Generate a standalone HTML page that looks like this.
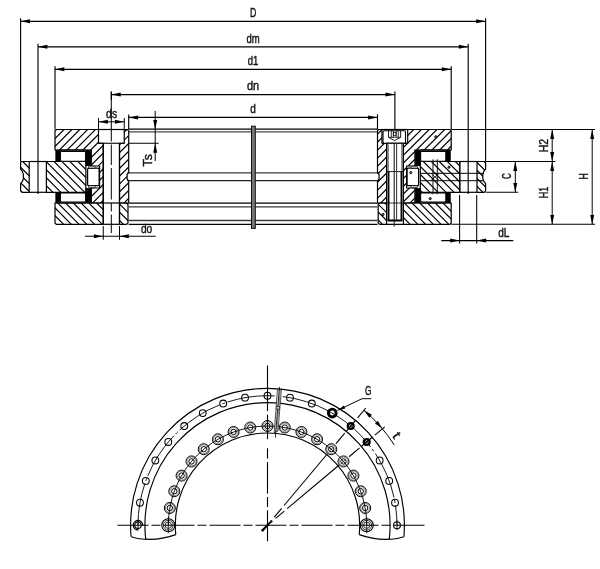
<!DOCTYPE html>
<html><head><meta charset="utf-8"><title>Bearing drawing</title>
<style>html,body{margin:0;padding:0;background:#fff;}body{width:600px;height:569px;overflow:hidden;font-family:"Liberation Sans",sans-serif;}svg{display:block;will-change:transform;}</style>
</head><body>
<svg width="600" height="569" viewBox="0 0 600 569" font-family="'Liberation Sans', sans-serif" fill="#111">
<rect width="600" height="569" fill="#fff"/>
<line x1="128.70" y1="129.20" x2="377.50" y2="129.20" stroke="#000" stroke-width="1.3" />
<line x1="128.70" y1="131.80" x2="377.50" y2="131.80" stroke="#4a4a4a" stroke-width="1.3" />
<line x1="127.20" y1="172.90" x2="379.00" y2="172.90" stroke="#3a3a3a" stroke-width="1.25" />
<line x1="127.20" y1="180.60" x2="379.00" y2="180.60" stroke="#222" stroke-width="1.25" />
<line x1="128.70" y1="203.10" x2="377.50" y2="203.10" stroke="#000" stroke-width="1.3" />
<line x1="128.70" y1="206.90" x2="377.50" y2="206.90" stroke="#3a3a3a" stroke-width="1.3" />
<line x1="128.70" y1="220.50" x2="377.50" y2="220.50" stroke="#3a3a3a" stroke-width="1.3" />
<line x1="128.70" y1="224.30" x2="377.50" y2="224.30" stroke="#000" stroke-width="1.3" />
<rect x="251.50" y="126.20" width="3.80" height="102.20" rx="0" fill="#777" stroke="#111" stroke-width="1.0"/>
<clipPath id="c1"><polygon points="56.30,129.50 98.50,129.50 98.50,143.25 103.25,143.25 103.25,203.00 91.30,203.00 91.30,188.00 99.60,188.00 99.60,166.00 91.30,166.00 91.30,150.00 55.00,150.00 55.00,130.80"/></clipPath>
<path clip-path="url(#c1)" d="M-18.25,204.00 L57.25,128.50 M-10.40,204.00 L65.10,128.50 M-2.55,204.00 L72.95,128.50 M5.30,204.00 L80.80,128.50 M13.15,204.00 L88.65,128.50 M21.00,204.00 L96.50,128.50 M28.85,204.00 L104.35,128.50 M36.70,204.00 L112.20,128.50 M44.55,204.00 L120.05,128.50 M52.40,204.00 L127.90,128.50 M60.25,204.00 L135.75,128.50 M68.10,204.00 L143.60,128.50 M75.95,204.00 L151.45,128.50 M83.80,204.00 L159.30,128.50 M91.65,204.00 L167.15,128.50 M99.50,204.00 L175.00,128.50" fill="none" stroke="#000" stroke-width="1.2"/>
<polygon points="56.30,129.50 98.50,129.50 98.50,143.25 103.25,143.25 103.25,203.00 91.30,203.00 91.30,188.00 99.60,188.00 99.60,166.00 91.30,166.00 91.30,150.00 55.00,150.00 55.00,130.80" fill="none" stroke="#000" stroke-width="1.2" stroke-linejoin="round"/>
<clipPath id="c2"><polygon points="124.25,129.50 127.40,129.50 128.70,130.80 128.70,172.60 127.10,174.50 127.10,179.00 128.70,180.80 128.70,203.00 119.50,203.00 119.50,143.25 124.25,143.25"/></clipPath>
<path clip-path="url(#c2)" d="M52.40,204.00 L127.90,128.50 M60.25,204.00 L135.75,128.50 M68.10,204.00 L143.60,128.50 M75.95,204.00 L151.45,128.50 M83.80,204.00 L159.30,128.50 M91.65,204.00 L167.15,128.50 M99.50,204.00 L175.00,128.50 M107.35,204.00 L182.85,128.50 M115.20,204.00 L190.70,128.50 M123.05,204.00 L198.55,128.50" fill="none" stroke="#000" stroke-width="1.2"/>
<polygon points="124.25,129.50 127.40,129.50 128.70,130.80 128.70,172.60 127.10,174.50 127.10,179.00 128.70,180.80 128.70,203.00 119.50,203.00 119.50,143.25 124.25,143.25" fill="none" stroke="#000" stroke-width="1.2" stroke-linejoin="round"/>
<clipPath id="c3"><polygon points="55.00,203.00 103.25,203.00 103.25,224.30 56.30,224.30 55.00,223.00"/></clipPath>
<path clip-path="url(#c3)" d="M33.55,202.00 L56.85,225.30 M41.30,202.00 L64.60,225.30 M49.05,202.00 L72.35,225.30 M56.80,202.00 L80.10,225.30 M64.55,202.00 L87.85,225.30 M72.30,202.00 L95.60,225.30 M80.05,202.00 L103.35,225.30 M87.80,202.00 L111.10,225.30 M95.55,202.00 L118.85,225.30" fill="none" stroke="#000" stroke-width="1.2"/>
<polygon points="55.00,203.00 103.25,203.00 103.25,224.30 56.30,224.30 55.00,223.00" fill="none" stroke="#000" stroke-width="1.2" stroke-linejoin="round"/>
<clipPath id="c4"><polygon points="119.50,203.00 126.00,203.00 126.77,203.15 127.41,203.59 127.85,204.23 128.00,205.00 128.00,222.30 127.85,223.07 127.41,223.71 126.77,224.15 126.00,224.30 119.50,224.30"/></clipPath>
<path clip-path="url(#c4)" d="M101.10,202.00 L124.40,225.30 M109.30,202.00 L132.60,225.30 M117.50,202.00 L140.80,225.30 M125.70,202.00 L149.00,225.30" fill="none" stroke="#000" stroke-width="1.2"/>
<polygon points="119.50,203.00 126.00,203.00 126.77,203.15 127.41,203.59 127.85,204.23 128.00,205.00 128.00,222.30 127.85,223.07 127.41,223.71 126.77,224.15 126.00,224.30 119.50,224.30" fill="none" stroke="#000" stroke-width="1.2" stroke-linejoin="round"/>
<clipPath id="c5"><polygon points="46.40,161.50 85.90,161.50 85.90,192.30 46.40,192.30"/></clipPath>
<path clip-path="url(#c5)" d="M21.11,160.50 L53.91,193.30 M29.08,160.50 L61.88,193.30 M37.05,160.50 L69.85,193.30 M45.02,160.50 L77.82,193.30 M52.99,160.50 L85.79,193.30 M60.96,160.50 L93.76,193.30 M68.93,160.50 L101.73,193.30 M76.90,160.50 L109.70,193.30 M84.87,160.50 L117.67,193.30" fill="none" stroke="#000" stroke-width="1.2"/>
<polygon points="46.40,161.50 85.90,161.50 85.90,192.30 46.40,192.30" fill="none" stroke="#000" stroke-width="1.2" stroke-linejoin="round"/>
<clipPath id="c6"><polygon points="29.20,161.50 21.40,161.50 20.60,162.30 20.60,169.20 22.50,171.60 23.40,174.60 23.40,178.40 22.50,181.20 20.60,183.70 20.60,190.90 22.00,192.30 29.20,192.30"/></clipPath>
<path clip-path="url(#c6)" d="M-9.50,160.50 L23.30,193.30 M-1.70,160.50 L31.10,193.30 M6.10,160.50 L38.90,193.30 M13.90,160.50 L46.70,193.30 M21.70,160.50 L54.50,193.30" fill="none" stroke="#000" stroke-width="1.2"/>
<polygon points="29.20,161.50 21.40,161.50 20.60,162.30 20.60,169.20 22.50,171.60 23.40,174.60 23.40,178.40 22.50,181.20 20.60,183.70 20.60,190.90 22.00,192.30 29.20,192.30" fill="none" stroke="#000" stroke-width="1.2" stroke-linejoin="round"/>
<line x1="29.20" y1="161.50" x2="46.40" y2="161.50" stroke="#000" stroke-width="1.2" />
<line x1="29.20" y1="192.30" x2="46.40" y2="192.30" stroke="#000" stroke-width="1.2" />
<rect x="55.60" y="150.00" width="4.80" height="11.50" rx="0" fill="#000" stroke="#000" stroke-width="0.4"/>
<rect x="55.60" y="192.30" width="4.80" height="10.70" rx="0" fill="#000" stroke="#000" stroke-width="0.4"/>
<rect x="85.60" y="150.00" width="5.40" height="15.80" rx="0" fill="#000" stroke="#000" stroke-width="0.4"/>
<rect x="85.60" y="188.20" width="5.40" height="14.80" rx="0" fill="#000" stroke="#000" stroke-width="0.4"/>
<rect x="60.40" y="151.40" width="25.20" height="9.80" rx="1.2" fill="#fff" stroke="#000" stroke-width="1.1"/>
<rect x="60.40" y="192.90" width="25.20" height="9.10" rx="1.2" fill="#fff" stroke="#000" stroke-width="1.1"/>
<line x1="60.40" y1="150.00" x2="85.60" y2="150.00" stroke="#000" stroke-width="1.2" />
<line x1="60.40" y1="203.00" x2="85.60" y2="203.00" stroke="#000" stroke-width="1.2" />
<rect x="87.60" y="168.20" width="11.50" height="17.50" rx="1.2" fill="#fff" stroke="#000" stroke-width="1.2"/>
<rect x="88.50" y="166.20" width="6.70" height="1.90" rx="0.6" fill="#fff" stroke="#000" stroke-width="0.8"/>
<rect x="88.50" y="185.80" width="6.70" height="1.90" rx="0.6" fill="#fff" stroke="#000" stroke-width="0.8"/>
<line x1="98.50" y1="129.50" x2="124.25" y2="129.50" stroke="#000" stroke-width="1.2" />
<line x1="103.25" y1="143.25" x2="103.25" y2="224.30" stroke="#000" stroke-width="1.2" />
<line x1="119.50" y1="143.25" x2="119.50" y2="224.30" stroke="#000" stroke-width="1.2" />
<line x1="103.25" y1="203.00" x2="119.50" y2="203.00" stroke="#000" stroke-width="1.2" />
<line x1="103.25" y1="224.30" x2="119.50" y2="224.30" stroke="#000" stroke-width="1.2" />
<line x1="98.50" y1="143.25" x2="124.25" y2="143.25" stroke="#000" stroke-width="1.1" />
<clipPath id="c7"><polygon points="449.90,129.50 407.70,129.50 407.70,143.25 402.95,143.25 402.95,203.00 414.90,203.00 414.90,188.00 406.60,188.00 406.60,166.00 414.90,166.00 414.90,150.00 451.20,150.00 451.20,130.80"/></clipPath>
<path clip-path="url(#c7)" d="M331.45,204.00 L406.95,128.50 M339.20,204.00 L414.70,128.50 M346.95,204.00 L422.45,128.50 M354.70,204.00 L430.20,128.50 M362.45,204.00 L437.95,128.50 M370.20,204.00 L445.70,128.50 M377.95,204.00 L453.45,128.50 M385.70,204.00 L461.20,128.50 M393.45,204.00 L468.95,128.50 M401.20,204.00 L476.70,128.50 M408.95,204.00 L484.45,128.50 M416.70,204.00 L492.20,128.50 M424.45,204.00 L499.95,128.50 M432.20,204.00 L507.70,128.50 M439.95,204.00 L515.45,128.50 M447.70,204.00 L523.20,128.50" fill="none" stroke="#000" stroke-width="1.2"/>
<polygon points="449.90,129.50 407.70,129.50 407.70,143.25 402.95,143.25 402.95,203.00 414.90,203.00 414.90,188.00 406.60,188.00 406.60,166.00 414.90,166.00 414.90,150.00 451.20,150.00 451.20,130.80" fill="none" stroke="#000" stroke-width="1.2" stroke-linejoin="round"/>
<clipPath id="c8"><polygon points="381.95,129.50 378.80,129.50 377.50,130.80 377.50,172.60 379.10,174.50 379.10,179.00 377.50,180.80 377.50,203.00 386.70,203.00 386.70,143.25 381.95,143.25"/></clipPath>
<path clip-path="url(#c8)" d="M307.70,204.00 L383.20,128.50 M315.70,204.00 L391.20,128.50 M323.70,204.00 L399.20,128.50 M331.70,204.00 L407.20,128.50 M339.70,204.00 L415.20,128.50 M347.70,204.00 L423.20,128.50 M355.70,204.00 L431.20,128.50 M363.70,204.00 L439.20,128.50 M371.70,204.00 L447.20,128.50 M379.70,204.00 L455.20,128.50" fill="none" stroke="#000" stroke-width="1.2"/>
<polygon points="381.95,129.50 378.80,129.50 377.50,130.80 377.50,172.60 379.10,174.50 379.10,179.00 377.50,180.80 377.50,203.00 386.70,203.00 386.70,143.25 381.95,143.25" fill="none" stroke="#000" stroke-width="1.2" stroke-linejoin="round"/>
<clipPath id="c9"><polygon points="451.20,203.00 402.95,203.00 402.95,224.30 449.90,224.30 451.20,223.00"/></clipPath>
<path clip-path="url(#c9)" d="M387.84,202.00 L411.14,225.30 M395.57,202.00 L418.87,225.30 M403.30,202.00 L426.60,225.30 M411.03,202.00 L434.33,225.30 M418.76,202.00 L442.06,225.30 M426.49,202.00 L449.79,225.30 M434.22,202.00 L457.52,225.30 M441.95,202.00 L465.25,225.30 M449.68,202.00 L472.98,225.30" fill="none" stroke="#000" stroke-width="1.2"/>
<polygon points="451.20,203.00 402.95,203.00 402.95,224.30 449.90,224.30 451.20,223.00" fill="none" stroke="#000" stroke-width="1.2" stroke-linejoin="round"/>
<clipPath id="c10"><polygon points="386.70,203.00 380.20,203.00 379.43,203.15 378.79,203.59 378.35,204.23 378.20,205.00 378.20,222.30 378.35,223.07 378.79,223.71 379.43,224.15 380.20,224.30 386.70,224.30"/></clipPath>
<path clip-path="url(#c10)" d="M360.20,202.00 L383.50,225.30 M368.10,202.00 L391.40,225.30 M376.00,202.00 L399.30,225.30 M383.90,202.00 L407.20,225.30" fill="none" stroke="#000" stroke-width="1.2"/>
<polygon points="386.70,203.00 380.20,203.00 379.43,203.15 378.79,203.59 378.35,204.23 378.20,205.00 378.20,222.30 378.35,223.07 378.79,223.71 379.43,224.15 380.20,224.30 386.70,224.30" fill="none" stroke="#000" stroke-width="1.2" stroke-linejoin="round"/>
<clipPath id="c11"><polygon points="459.80,161.50 420.30,161.50 420.30,192.30 459.80,192.30"/></clipPath>
<path clip-path="url(#c11)" d="M390.30,160.50 L423.10,193.30 M398.30,160.50 L431.10,193.30 M406.30,160.50 L439.10,193.30 M414.30,160.50 L447.10,193.30 M422.30,160.50 L455.10,193.30 M430.30,160.50 L463.10,193.30 M438.30,160.50 L471.10,193.30 M446.30,160.50 L479.10,193.30 M454.30,160.50 L487.10,193.30" fill="none" stroke="#000" stroke-width="1.2"/>
<polygon points="459.80,161.50 420.30,161.50 420.30,192.30 459.80,192.30" fill="none" stroke="#000" stroke-width="1.2" stroke-linejoin="round"/>
<clipPath id="c12"><polygon points="477.00,161.50 484.80,161.50 485.60,162.30 485.60,169.20 483.70,171.60 482.80,174.60 482.80,178.40 483.70,181.20 485.60,183.70 485.60,190.90 484.20,192.30 477.00,192.30"/></clipPath>
<path clip-path="url(#c12)" d="M451.20,160.50 L484.00,193.30 M459.20,160.50 L492.00,193.30 M467.20,160.50 L500.00,193.30 M475.20,160.50 L508.00,193.30 M483.20,160.50 L516.00,193.30" fill="none" stroke="#000" stroke-width="1.2"/>
<polygon points="477.00,161.50 484.80,161.50 485.60,162.30 485.60,169.20 483.70,171.60 482.80,174.60 482.80,178.40 483.70,181.20 485.60,183.70 485.60,190.90 484.20,192.30 477.00,192.30" fill="none" stroke="#000" stroke-width="1.2" stroke-linejoin="round"/>
<line x1="477.00" y1="161.50" x2="459.80" y2="161.50" stroke="#000" stroke-width="1.2" />
<line x1="477.00" y1="192.30" x2="459.80" y2="192.30" stroke="#000" stroke-width="1.2" />
<rect x="445.80" y="150.00" width="4.80" height="11.50" rx="0" fill="#000" stroke="#000" stroke-width="0.4"/>
<rect x="445.80" y="192.30" width="4.80" height="10.70" rx="0" fill="#000" stroke="#000" stroke-width="0.4"/>
<rect x="415.20" y="150.00" width="5.40" height="15.80" rx="0" fill="#000" stroke="#000" stroke-width="0.4"/>
<rect x="415.20" y="188.20" width="5.40" height="14.80" rx="0" fill="#000" stroke="#000" stroke-width="0.4"/>
<rect x="420.60" y="151.40" width="25.20" height="9.80" rx="1.2" fill="#fff" stroke="#000" stroke-width="1.1"/>
<rect x="420.60" y="192.90" width="25.20" height="9.10" rx="1.2" fill="#fff" stroke="#000" stroke-width="1.1"/>
<line x1="445.80" y1="150.00" x2="420.60" y2="150.00" stroke="#000" stroke-width="1.2" />
<line x1="445.80" y1="203.00" x2="420.60" y2="203.00" stroke="#000" stroke-width="1.2" />
<rect x="407.10" y="168.20" width="11.50" height="17.50" rx="1.2" fill="#fff" stroke="#000" stroke-width="1.2"/>
<rect x="411.00" y="166.20" width="6.70" height="1.90" rx="0.6" fill="#fff" stroke="#000" stroke-width="0.8"/>
<rect x="411.00" y="185.80" width="6.70" height="1.90" rx="0.6" fill="#fff" stroke="#000" stroke-width="0.8"/>
<line x1="407.70" y1="129.50" x2="381.95" y2="129.50" stroke="#000" stroke-width="1.2" />
<line x1="402.95" y1="143.25" x2="402.95" y2="224.30" stroke="#000" stroke-width="1.2" />
<line x1="386.70" y1="143.25" x2="386.70" y2="224.30" stroke="#000" stroke-width="1.2" />
<line x1="402.95" y1="203.00" x2="386.70" y2="203.00" stroke="#000" stroke-width="1.2" />
<line x1="402.95" y1="224.30" x2="386.70" y2="224.30" stroke="#000" stroke-width="1.2" />
<line x1="407.70" y1="143.25" x2="381.95" y2="143.25" stroke="#000" stroke-width="1.1" />
<line x1="111.30" y1="91.50" x2="111.30" y2="141.50" stroke="#000" stroke-width="1.0" />
<line x1="111.30" y1="144.50" x2="111.30" y2="165.00" stroke="#000" stroke-width="1.0" />
<line x1="111.30" y1="168.00" x2="111.30" y2="199.50" stroke="#000" stroke-width="1.0" />
<line x1="111.30" y1="203.00" x2="111.30" y2="211.50" stroke="#000" stroke-width="1.0" />
<line x1="111.30" y1="214.50" x2="111.30" y2="233.00" stroke="#000" stroke-width="1.0" />
<rect x="383.00" y="130.70" width="22.50" height="12.50" rx="1.2" fill="#fff" stroke="#000" stroke-width="1.1"/>
<path d="M388.5,130.7 V137.3 L394.6,140.6 L400.6,137.3 V130.7" fill="none" stroke="#000" stroke-width="0.9"/>
<line x1="388.50" y1="137.30" x2="400.60" y2="137.30" stroke="#000" stroke-width="0.8" />
<line x1="391.30" y1="130.70" x2="391.30" y2="137.30" stroke="#000" stroke-width="0.8" />
<line x1="393.30" y1="130.70" x2="393.30" y2="137.30" stroke="#000" stroke-width="0.8" />
<line x1="396.20" y1="130.70" x2="396.20" y2="137.30" stroke="#000" stroke-width="0.8" />
<line x1="398.20" y1="130.70" x2="398.20" y2="137.30" stroke="#000" stroke-width="0.8" />
<rect x="393.40" y="132.50" width="2.60" height="3.00" rx="0" fill="none" stroke="#000" stroke-width="0.7"/>
<rect x="386.60" y="143.25" width="16.80" height="81.05" rx="0" fill="#fff" stroke="#000" stroke-width="1.15"/>
<line x1="388.00" y1="143.25" x2="388.00" y2="171.60" stroke="#333" stroke-width="1.1" />
<line x1="402.00" y1="143.25" x2="402.00" y2="171.60" stroke="#333" stroke-width="1.1" />
<line x1="386.60" y1="171.60" x2="403.40" y2="171.60" stroke="#000" stroke-width="0.9" />
<line x1="388.50" y1="171.60" x2="388.50" y2="221.00" stroke="#000" stroke-width="1.9" />
<line x1="401.50" y1="171.60" x2="401.50" y2="221.00" stroke="#000" stroke-width="1.9" />
<line x1="394.20" y1="143.25" x2="394.20" y2="226.50" stroke="#222" stroke-width="1.1" />
<line x1="396.60" y1="143.25" x2="396.60" y2="220.00" stroke="#444" stroke-width="1.1" />
<line x1="386.60" y1="203.00" x2="403.40" y2="203.00" stroke="#000" stroke-width="0.8" />
<line x1="387.80" y1="220.50" x2="402.20" y2="220.50" stroke="#000" stroke-width="2.0" />
<line x1="420.30" y1="173.30" x2="484.00" y2="173.30" stroke="#000" stroke-width="1.0" />
<line x1="420.30" y1="180.70" x2="484.00" y2="180.70" stroke="#000" stroke-width="1.0" />
<line x1="433.00" y1="159.30" x2="433.00" y2="194.30" stroke="#111" stroke-width="1.0" />
<line x1="437.30" y1="159.30" x2="437.30" y2="194.30" stroke="#111" stroke-width="1.0" />
<line x1="459.80" y1="161.50" x2="459.80" y2="192.30" stroke="#000" stroke-width="1.0" />
<line x1="431.20" y1="173.60" x2="439.00" y2="180.40" stroke="#000" stroke-width="0.8" />
<line x1="431.20" y1="180.40" x2="439.00" y2="173.60" stroke="#000" stroke-width="0.8" />
<circle cx="435.8" cy="136.8" r="1.1" fill="#999" stroke="#000" stroke-width="1.0"/>
<circle cx="449.0" cy="167.2" r="1.1" fill="#999" stroke="#000" stroke-width="1.0"/>
<circle cx="410.8" cy="172.6" r="1.1" fill="#999" stroke="#000" stroke-width="1.0"/>
<circle cx="430.2" cy="198.6" r="1.1" fill="#999" stroke="#000" stroke-width="1.0"/>
<circle cx="383.0" cy="214.5" r="1.1" fill="#999" stroke="#000" stroke-width="1.0"/>
<line x1="20.60" y1="18.30" x2="20.60" y2="161.50" stroke="#000" stroke-width="1.15" />
<line x1="485.60" y1="18.30" x2="485.60" y2="161.50" stroke="#000" stroke-width="1.15" />
<line x1="20.60" y1="21.30" x2="485.60" y2="21.30" stroke="#000" stroke-width="1.25" />
<polygon points="20.60,21.30 30.00,19.30 30.00,23.30" fill="#000"/>
<polygon points="485.60,21.30 476.20,23.30 476.20,19.30" fill="#000"/>
<text x="253.10" y="17.20" font-size="12" stroke="#111" stroke-width="0.4" text-anchor="middle" textLength="6.4" lengthAdjust="spacingAndGlyphs">D</text>
<line x1="38.00" y1="43.80" x2="38.00" y2="194.00" stroke="#000" stroke-width="1.15" />
<line x1="468.20" y1="43.80" x2="468.20" y2="194.00" stroke="#000" stroke-width="1.15" />
<line x1="38.00" y1="46.80" x2="468.20" y2="46.80" stroke="#000" stroke-width="1.25" />
<polygon points="38.00,46.80 47.40,44.80 47.40,48.80" fill="#000"/>
<polygon points="468.20,46.80 458.80,48.80 458.80,44.80" fill="#000"/>
<text x="253.10" y="43.40" font-size="12" stroke="#111" stroke-width="0.4" text-anchor="middle" textLength="13.2" lengthAdjust="spacingAndGlyphs">dm</text>
<line x1="55.00" y1="66.30" x2="55.00" y2="129.50" stroke="#000" stroke-width="1.15" />
<line x1="451.20" y1="66.30" x2="451.20" y2="129.50" stroke="#000" stroke-width="1.15" />
<line x1="55.00" y1="69.30" x2="451.20" y2="69.30" stroke="#000" stroke-width="1.25" />
<polygon points="55.00,69.30 64.40,67.30 64.40,71.30" fill="#000"/>
<polygon points="451.20,69.30 441.80,71.30 441.80,67.30" fill="#000"/>
<text x="253.10" y="65.20" font-size="12" stroke="#111" stroke-width="0.4" text-anchor="middle" textLength="10.6" lengthAdjust="spacingAndGlyphs">d1</text>
<line x1="111.30" y1="91.50" x2="111.30" y2="100.00" stroke="#000" stroke-width="1.15" />
<line x1="394.90" y1="91.50" x2="394.90" y2="129.50" stroke="#000" stroke-width="1.15" />
<line x1="111.30" y1="94.50" x2="394.90" y2="94.50" stroke="#000" stroke-width="1.25" />
<polygon points="111.30,94.50 120.70,92.50 120.70,96.50" fill="#000"/>
<polygon points="394.90,94.50 385.50,96.50 385.50,92.50" fill="#000"/>
<text x="253.10" y="90.20" font-size="12" stroke="#111" stroke-width="0.4" text-anchor="middle" textLength="12.2" lengthAdjust="spacingAndGlyphs">dn</text>
<line x1="128.70" y1="114.40" x2="128.70" y2="129.50" stroke="#000" stroke-width="1.15" />
<line x1="377.50" y1="114.40" x2="377.50" y2="129.50" stroke="#000" stroke-width="1.15" />
<line x1="128.70" y1="117.40" x2="377.50" y2="117.40" stroke="#000" stroke-width="1.25" />
<polygon points="128.70,117.40 138.10,115.40 138.10,119.40" fill="#000"/>
<polygon points="377.50,117.40 368.10,119.40 368.10,115.40" fill="#000"/>
<text x="253.10" y="113.40" font-size="12" stroke="#111" stroke-width="0.4" text-anchor="middle" textLength="5.6" lengthAdjust="spacingAndGlyphs">d</text>
<line x1="98.50" y1="118.00" x2="98.50" y2="129.50" stroke="#000" stroke-width="1.0" />
<line x1="124.25" y1="118.00" x2="124.25" y2="129.50" stroke="#000" stroke-width="1.0" />
<line x1="98.50" y1="121.80" x2="124.25" y2="121.80" stroke="#000" stroke-width="1.0" />
<polygon points="98.50,121.80 107.90,119.80 107.90,123.80" fill="#000"/>
<polygon points="124.25,121.80 114.85,123.80 114.85,119.80" fill="#000"/>
<text x="111.60" y="118.00" font-size="12" stroke="#111" stroke-width="0.4" text-anchor="middle" textLength="11.0" lengthAdjust="spacingAndGlyphs">ds</text>
<line x1="103.25" y1="226.00" x2="103.25" y2="239.80" stroke="#000" stroke-width="1.0" />
<line x1="119.50" y1="226.00" x2="119.50" y2="239.80" stroke="#000" stroke-width="1.0" />
<line x1="85.00" y1="236.30" x2="155.70" y2="236.30" stroke="#000" stroke-width="1.05" />
<polygon points="103.25,236.30 93.85,238.30 93.85,234.30" fill="#000"/>
<polygon points="119.50,236.30 128.90,234.30 128.90,238.30" fill="#000"/>
<text x="146.60" y="232.60" font-size="12" stroke="#111" stroke-width="0.4" text-anchor="middle" textLength="11.4" lengthAdjust="spacingAndGlyphs">do</text>
<line x1="155.20" y1="111.00" x2="155.20" y2="161.00" stroke="#000" stroke-width="1.0" />
<line x1="128.70" y1="143.25" x2="158.60" y2="143.25" stroke="#000" stroke-width="1.0" />
<polygon points="155.20,129.30 153.20,119.90 157.20,119.90" fill="#000"/>
<polygon points="155.20,143.25 157.20,152.65 153.20,152.65" fill="#000"/>
<text x="151.60" y="160.20" font-size="12" stroke="#111" stroke-width="0.4" text-anchor="middle" textLength="12.4" lengthAdjust="spacingAndGlyphs" transform="rotate(-90 151.60 160.20)">Ts</text>
<line x1="451.20" y1="129.50" x2="595.00" y2="129.50" stroke="#000" stroke-width="1.1" />
<line x1="451.20" y1="224.30" x2="595.00" y2="224.30" stroke="#000" stroke-width="1.1" />
<line x1="485.60" y1="161.50" x2="555.50" y2="161.50" stroke="#000" stroke-width="1.1" />
<line x1="485.60" y1="192.30" x2="518.20" y2="192.30" stroke="#000" stroke-width="1.1" />
<line x1="592.20" y1="129.50" x2="592.20" y2="224.30" stroke="#000" stroke-width="1.0" />
<polygon points="592.20,129.50 594.20,138.90 590.20,138.90" fill="#000"/>
<polygon points="592.20,224.30 590.20,214.90 594.20,214.90" fill="#000"/>
<line x1="552.20" y1="129.50" x2="552.20" y2="224.30" stroke="#000" stroke-width="1.0" />
<polygon points="552.20,129.50 554.20,138.90 550.20,138.90" fill="#000"/>
<polygon points="552.20,161.50 550.20,152.10 554.20,152.10" fill="#000"/>
<polygon points="552.20,161.50 554.20,170.90 550.20,170.90" fill="#000"/>
<polygon points="552.20,224.30 550.20,214.90 554.20,214.90" fill="#000"/>
<line x1="515.30" y1="161.50" x2="515.30" y2="192.30" stroke="#000" stroke-width="1.0" />
<polygon points="515.30,161.50 517.30,170.90 513.30,170.90" fill="#000"/>
<polygon points="515.30,192.30 513.30,182.90 517.30,182.90" fill="#000"/>
<text x="548.20" y="145.50" font-size="12" stroke="#111" stroke-width="0.4" text-anchor="middle" textLength="13.4" lengthAdjust="spacingAndGlyphs" transform="rotate(-90 548.20 145.50)">H2</text>
<text x="548.20" y="192.50" font-size="12" stroke="#111" stroke-width="0.4" text-anchor="middle" textLength="11.4" lengthAdjust="spacingAndGlyphs" transform="rotate(-90 548.20 192.50)">H1</text>
<text x="510.80" y="176.20" font-size="12" stroke="#111" stroke-width="0.4" text-anchor="middle" textLength="5.8" lengthAdjust="spacingAndGlyphs" transform="rotate(-90 510.80 176.20)">C</text>
<text x="587.80" y="176.40" font-size="12" stroke="#111" stroke-width="0.4" text-anchor="middle" textLength="6.2" lengthAdjust="spacingAndGlyphs" transform="rotate(-90 587.80 176.40)">H</text>
<line x1="459.60" y1="195.00" x2="459.60" y2="243.60" stroke="#000" stroke-width="1.05" />
<line x1="476.70" y1="195.00" x2="476.70" y2="243.60" stroke="#000" stroke-width="1.05" />
<line x1="441.30" y1="240.60" x2="513.30" y2="240.60" stroke="#000" stroke-width="1.05" />
<polygon points="459.60,240.60 450.20,242.60 450.20,238.60" fill="#000"/>
<polygon points="476.70,240.60 486.10,238.60 486.10,242.60" fill="#000"/>
<text x="503.80" y="237.00" font-size="12" stroke="#111" stroke-width="0.4" text-anchor="middle" textLength="11.2" lengthAdjust="spacingAndGlyphs">dL</text>
<path d="M131.09,536.80 A136.9,136.9 0 1 1 403.91,536.80" fill="none" stroke="#000" stroke-width="1.15"/>
<path d="M145.70,539.20 A122.6,122.6 0 1 1 389.30,539.20" fill="none" stroke="#000" stroke-width="1.15"/>
<path d="M175.78,534.60 A92.2,92.2 0 1 1 359.22,534.60" fill="none" stroke="#000" stroke-width="1.15"/>
<path d="M131.09,536.80 Q138.40,539.50 145.70,539.20 Q160.74,540.00 175.78,534.60" fill="none" stroke="#000" stroke-width="1.2"/>
<path d="M403.91,536.80 Q396.60,539.50 389.30,539.20 Q374.26,540.00 359.22,534.60" fill="none" stroke="#000" stroke-width="1.2"/>
<path d="M138.0,525.2 A129.5,129.5 0 0 1 397.0,525.2" fill="none" stroke="#000" stroke-width="0.9" stroke-dasharray="48 2.5 3 2.5" stroke-dashoffset="5.3"/>
<path d="M168.3,525.2 A99.2,99.2 0 0 1 366.7,525.2" fill="none" stroke="#000" stroke-width="0.9"/>
<circle cx="397.00" cy="525.20" r="3.4" fill="none" stroke="#000" stroke-width="1.1"/>
<line x1="397.00" y1="520.20" x2="397.00" y2="530.20" stroke="#000" stroke-width="0.8" />
<circle cx="366.70" cy="525.20" r="6.5" fill="none" stroke="#000" stroke-width="1.1"/>
<circle cx="366.70" cy="525.20" r="4.9" fill="none" stroke="#000" stroke-width="0.8"/>
<circle cx="366.70" cy="525.20" r="3.2" fill="none" stroke="#000" stroke-width="0.8"/>
<line x1="366.70" y1="517.20" x2="366.70" y2="533.20" stroke="#000" stroke-width="0.8" />
<circle cx="395.03" cy="502.71" r="3.4" fill="none" stroke="#000" stroke-width="1.05"/>
<circle cx="365.19" cy="507.97" r="5.5" fill="none" stroke="#000" stroke-width="1.0"/>
<circle cx="365.19" cy="507.97" r="4.45" fill="none" stroke="#333" stroke-width="0.6"/>
<circle cx="365.19" cy="507.97" r="2.7" fill="none" stroke="#000" stroke-width="1.0"/>
<circle cx="389.19" cy="480.91" r="3.4" fill="none" stroke="#000" stroke-width="1.05"/>
<circle cx="360.72" cy="491.27" r="5.5" fill="none" stroke="#000" stroke-width="1.0"/>
<circle cx="360.72" cy="491.27" r="4.45" fill="none" stroke="#333" stroke-width="0.6"/>
<circle cx="360.72" cy="491.27" r="2.7" fill="none" stroke="#000" stroke-width="1.0"/>
<circle cx="379.65" cy="460.45" r="3.4" fill="none" stroke="#000" stroke-width="1.05"/>
<circle cx="353.41" cy="475.60" r="5.5" fill="none" stroke="#000" stroke-width="1.0"/>
<circle cx="353.41" cy="475.60" r="4.45" fill="none" stroke="#333" stroke-width="0.6"/>
<circle cx="353.41" cy="475.60" r="2.7" fill="none" stroke="#000" stroke-width="1.0"/>
<circle cx="366.70" cy="441.96" r="2.9" fill="#ddd" stroke="#000" stroke-width="2.3"/>
<line x1="365.50" y1="440.76" x2="367.90" y2="443.16" stroke="#000" stroke-width="0.7" />
<line x1="365.50" y1="443.16" x2="367.90" y2="440.76" stroke="#000" stroke-width="0.7" />
<circle cx="343.49" cy="461.44" r="5.5" fill="none" stroke="#000" stroke-width="1.0"/>
<circle cx="343.49" cy="461.44" r="4.45" fill="none" stroke="#333" stroke-width="0.6"/>
<circle cx="343.49" cy="461.44" r="2.7" fill="none" stroke="#000" stroke-width="1.0"/>
<line x1="341.79" y1="459.74" x2="345.19" y2="463.14" stroke="#000" stroke-width="0.7" />
<line x1="341.79" y1="463.14" x2="345.19" y2="459.74" stroke="#000" stroke-width="0.7" />
<circle cx="350.74" cy="426.00" r="2.9" fill="#ddd" stroke="#000" stroke-width="2.3"/>
<line x1="349.54" y1="424.80" x2="351.94" y2="427.20" stroke="#000" stroke-width="0.7" />
<line x1="349.54" y1="427.20" x2="351.94" y2="424.80" stroke="#000" stroke-width="0.7" />
<circle cx="331.26" cy="449.21" r="5.5" fill="none" stroke="#000" stroke-width="1.0"/>
<circle cx="331.26" cy="449.21" r="4.45" fill="none" stroke="#333" stroke-width="0.6"/>
<circle cx="331.26" cy="449.21" r="2.7" fill="none" stroke="#000" stroke-width="1.0"/>
<line x1="329.56" y1="447.51" x2="332.96" y2="450.91" stroke="#000" stroke-width="0.7" />
<line x1="329.56" y1="450.91" x2="332.96" y2="447.51" stroke="#000" stroke-width="0.7" />
<circle cx="332.25" cy="413.05" r="3.9" fill="#fff" stroke="#000" stroke-width="2.9"/>
<line x1="327.10" y1="410.23" x2="337.27" y2="416.10" stroke="#000" stroke-width="0.9" />
<circle cx="317.10" cy="439.29" r="5.5" fill="none" stroke="#000" stroke-width="1.0"/>
<circle cx="317.10" cy="439.29" r="4.45" fill="none" stroke="#333" stroke-width="0.6"/>
<circle cx="317.10" cy="439.29" r="2.7" fill="none" stroke="#000" stroke-width="1.0"/>
<circle cx="311.79" cy="403.51" r="3.4" fill="none" stroke="#000" stroke-width="1.05"/>
<circle cx="301.43" cy="431.98" r="5.5" fill="none" stroke="#000" stroke-width="1.0"/>
<circle cx="301.43" cy="431.98" r="4.45" fill="none" stroke="#333" stroke-width="0.6"/>
<circle cx="301.43" cy="431.98" r="2.7" fill="none" stroke="#000" stroke-width="1.0"/>
<circle cx="289.99" cy="397.67" r="3.4" fill="none" stroke="#000" stroke-width="1.05"/>
<circle cx="284.73" cy="427.51" r="5.5" fill="none" stroke="#000" stroke-width="1.0"/>
<circle cx="284.73" cy="427.51" r="4.45" fill="none" stroke="#333" stroke-width="0.6"/>
<circle cx="284.73" cy="427.51" r="2.7" fill="none" stroke="#000" stroke-width="1.0"/>
<circle cx="267.50" cy="395.70" r="3.4" fill="none" stroke="#000" stroke-width="1.05"/>
<circle cx="267.50" cy="426.00" r="5.5" fill="none" stroke="#000" stroke-width="1.0"/>
<circle cx="267.50" cy="426.00" r="4.45" fill="none" stroke="#333" stroke-width="0.6"/>
<circle cx="267.50" cy="426.00" r="2.7" fill="none" stroke="#000" stroke-width="1.0"/>
<circle cx="245.01" cy="397.67" r="3.4" fill="none" stroke="#000" stroke-width="1.05"/>
<circle cx="250.27" cy="427.51" r="5.5" fill="none" stroke="#000" stroke-width="1.0"/>
<circle cx="250.27" cy="427.51" r="4.45" fill="none" stroke="#333" stroke-width="0.6"/>
<circle cx="250.27" cy="427.51" r="2.7" fill="none" stroke="#000" stroke-width="1.0"/>
<circle cx="223.21" cy="403.51" r="3.4" fill="none" stroke="#000" stroke-width="1.05"/>
<circle cx="233.57" cy="431.98" r="5.5" fill="none" stroke="#000" stroke-width="1.0"/>
<circle cx="233.57" cy="431.98" r="4.45" fill="none" stroke="#333" stroke-width="0.6"/>
<circle cx="233.57" cy="431.98" r="2.7" fill="none" stroke="#000" stroke-width="1.0"/>
<circle cx="202.75" cy="413.05" r="3.4" fill="none" stroke="#000" stroke-width="1.05"/>
<circle cx="217.90" cy="439.29" r="5.5" fill="none" stroke="#000" stroke-width="1.0"/>
<circle cx="217.90" cy="439.29" r="4.45" fill="none" stroke="#333" stroke-width="0.6"/>
<circle cx="217.90" cy="439.29" r="2.7" fill="none" stroke="#000" stroke-width="1.0"/>
<circle cx="184.26" cy="426.00" r="3.4" fill="none" stroke="#000" stroke-width="1.05"/>
<circle cx="203.74" cy="449.21" r="5.5" fill="none" stroke="#000" stroke-width="1.0"/>
<circle cx="203.74" cy="449.21" r="4.45" fill="none" stroke="#333" stroke-width="0.6"/>
<circle cx="203.74" cy="449.21" r="2.7" fill="none" stroke="#000" stroke-width="1.0"/>
<circle cx="168.30" cy="441.96" r="3.4" fill="none" stroke="#000" stroke-width="1.05"/>
<circle cx="191.51" cy="461.44" r="5.5" fill="none" stroke="#000" stroke-width="1.0"/>
<circle cx="191.51" cy="461.44" r="4.45" fill="none" stroke="#333" stroke-width="0.6"/>
<circle cx="191.51" cy="461.44" r="2.7" fill="none" stroke="#000" stroke-width="1.0"/>
<circle cx="155.35" cy="460.45" r="3.4" fill="none" stroke="#000" stroke-width="1.05"/>
<circle cx="181.59" cy="475.60" r="5.5" fill="none" stroke="#000" stroke-width="1.0"/>
<circle cx="181.59" cy="475.60" r="4.45" fill="none" stroke="#333" stroke-width="0.6"/>
<circle cx="181.59" cy="475.60" r="2.7" fill="none" stroke="#000" stroke-width="1.0"/>
<circle cx="145.81" cy="480.91" r="3.4" fill="none" stroke="#000" stroke-width="1.05"/>
<circle cx="174.28" cy="491.27" r="5.5" fill="none" stroke="#000" stroke-width="1.0"/>
<circle cx="174.28" cy="491.27" r="4.45" fill="none" stroke="#333" stroke-width="0.6"/>
<circle cx="174.28" cy="491.27" r="2.7" fill="none" stroke="#000" stroke-width="1.0"/>
<circle cx="139.97" cy="502.71" r="3.4" fill="none" stroke="#000" stroke-width="1.05"/>
<circle cx="169.81" cy="507.97" r="5.5" fill="none" stroke="#000" stroke-width="1.0"/>
<circle cx="169.81" cy="507.97" r="4.45" fill="none" stroke="#333" stroke-width="0.6"/>
<circle cx="169.81" cy="507.97" r="2.7" fill="none" stroke="#000" stroke-width="1.0"/>
<circle cx="138.00" cy="525.20" r="3.2" fill="none" stroke="#000" stroke-width="1.1"/>
<path d="M142.70,525.20 A4.7,4.7 0 1 0 138.00,529.90" fill="none" stroke="#000" stroke-width="1.3"/>
<line x1="138.00" y1="519.70" x2="138.00" y2="530.70" stroke="#000" stroke-width="0.8" />
<circle cx="168.30" cy="525.20" r="6.5" fill="none" stroke="#000" stroke-width="1.1"/>
<circle cx="168.30" cy="525.20" r="4.9" fill="none" stroke="#000" stroke-width="0.8"/>
<circle cx="168.30" cy="525.20" r="3.2" fill="none" stroke="#000" stroke-width="0.8"/>
<line x1="168.30" y1="517.20" x2="168.30" y2="533.20" stroke="#000" stroke-width="0.8" />
<line x1="117.5" y1="525.2" x2="426" y2="525.2" stroke="#000" stroke-width="1.1" stroke-dasharray="31 3 9 3"/>
<line x1="267.50" y1="365.50" x2="267.50" y2="411.00" stroke="#000" stroke-width="1.1" />
<line x1="267.50" y1="414.70" x2="267.50" y2="439.00" stroke="#000" stroke-width="1.1" />
<line x1="267.50" y1="448.30" x2="267.50" y2="458.60" stroke="#000" stroke-width="1.1" />
<line x1="267.50" y1="462.00" x2="267.50" y2="493.60" stroke="#000" stroke-width="1.1" />
<line x1="267.50" y1="497.00" x2="267.50" y2="507.00" stroke="#000" stroke-width="1.1" />
<line x1="267.50" y1="510.30" x2="267.50" y2="541.20" stroke="#000" stroke-width="1.1" />
<line x1="262.36" y1="531.33" x2="271.68" y2="520.22" stroke="#000" stroke-width="1.1" />
<line x1="274.25" y1="517.16" x2="281.64" y2="508.35" stroke="#000" stroke-width="1.1" />
<line x1="284.02" y1="505.51" x2="327.66" y2="453.50" stroke="#000" stroke-width="1.1" />
<line x1="335.96" y1="443.62" x2="344.76" y2="433.12" stroke="#000" stroke-width="1.1" />
<line x1="346.43" y1="431.13" x2="355.69" y2="420.10" stroke="#000" stroke-width="1.1" />
<line x1="357.62" y1="417.80" x2="365.85" y2="408.00" stroke="#000" stroke-width="1.1" />
<line x1="261.37" y1="530.34" x2="272.48" y2="521.02" stroke="#000" stroke-width="1.1" />
<line x1="275.54" y1="518.45" x2="284.35" y2="511.06" stroke="#000" stroke-width="1.1" />
<line x1="287.19" y1="508.68" x2="339.20" y2="465.04" stroke="#000" stroke-width="1.1" />
<line x1="349.08" y1="456.74" x2="359.58" y2="447.94" stroke="#000" stroke-width="1.1" />
<line x1="361.57" y1="446.27" x2="372.60" y2="437.01" stroke="#000" stroke-width="1.1" />
<line x1="374.90" y1="435.08" x2="384.70" y2="426.85" stroke="#000" stroke-width="1.1" />
<line x1="262.00" y1="531.20" x2="269.00" y2="523.40" stroke="#000" stroke-width="2.0" />
<path d="M363.92,410.29 A150,150 0 0 1 394.29,445.05" fill="none" stroke="#000" stroke-width="1.0"/>
<polygon points="363.92,410.29 371.94,414.83 369.27,417.80" fill="#000"/>
<polygon points="382.41,428.78 374.90,423.43 377.87,420.76" fill="#000"/>
<text x="0" y="4.6" font-size="13.5" stroke="#111" stroke-width="0.3" text-anchor="middle" transform="translate(396.76 435.03) rotate(55) scale(1.15 1)">t</text>
<line x1="337.45" y1="410.45" x2="362.00" y2="398.70" stroke="#000" stroke-width="1.0" />
<line x1="362.00" y1="398.70" x2="371.20" y2="398.70" stroke="#000" stroke-width="1.0" />
<polygon points="337.85,410.25 343.80,405.38 345.32,408.42" fill="#000"/>
<text x="368.20" y="394.80" font-size="12" stroke="#111" stroke-width="0.4" text-anchor="middle" textLength="6.4" lengthAdjust="spacingAndGlyphs">G</text>
<polygon points="277.4,389.7 281.4,389.7 278.0,431.0 274.2,432.6" fill="#e2e2e2" stroke="#111" stroke-width="0.7"/>
<path d="M280.3,389.7 L276.9,431.4" fill="none" stroke="#555" stroke-width="0.6"/>
<path d="M279.5,386.9 L275.3,437.7" fill="none" stroke="#000" stroke-width="0.85"/>
<rect x="276.90" y="406.30" width="2.60" height="2.80" rx="0" fill="#eee" stroke="#000" stroke-width="0.7"/>
</svg>
</body></html>
